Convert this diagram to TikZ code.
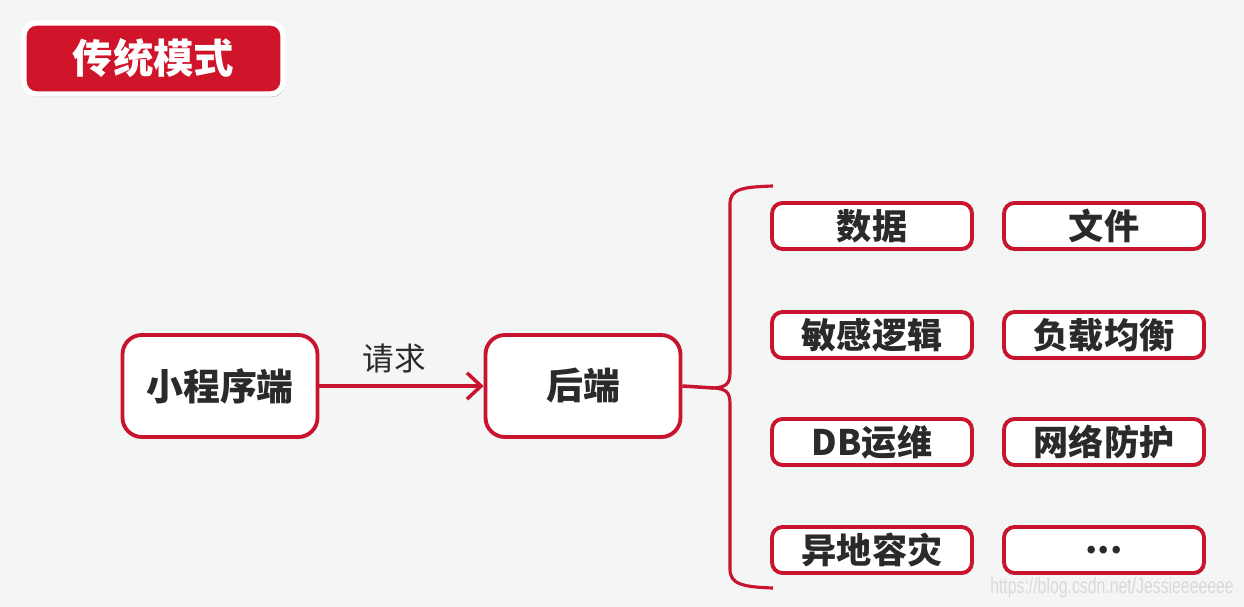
\documentclass[tikz,border=0pt]{standalone}
\usepackage{fontspec}
\newfontfamily\cjk{Noto Sans CJK SC}
\newfontfamily\wmfont{Liberation Sans}
\usetikzlibrary{positioning,shadows,arrows.meta}

\definecolor{bggray}{HTML}{F3F6F4}
\definecolor{linered}{HTML}{C8142E}
\definecolor{titlered}{HTML}{D0152B}
\definecolor{textdark}{HTML}{2A2A2A}

\newcommand{\moredots}{\raisebox{-0.25ex}{...}}

\tikzset{
  box/.style={draw=linered, line width=2.2pt, fill=white, text=textdark,
    font=\cjk\bfseries\fontsize{20}{24}\selectfont,
    drop shadow={shadow xshift=0.6pt, shadow yshift=-1.2pt, opacity=0.3}},
  bigbox/.style={box, minimum width=3.9cm, minimum height=2.04cm, rounded corners=11pt},
  smallbox/.style={box, minimum width=4cm, minimum height=0.92cm, rounded corners=6pt, inner sep=0pt},
  titlebox/.style={fill=titlered, draw=white, line width=3pt, rounded corners=7pt,
    minimum width=5.18cm, minimum height=1.42cm, text=white,
    font=\cjk\bfseries\fontsize{23}{27}\selectfont,
    drop shadow={shadow xshift=0.8pt, shadow yshift=-1.8pt, opacity=0.4}},
  link/.style={draw=linered, line width=2pt},
}

\begin{document}
\begin{tikzpicture}[x=0.02cm, y=-0.02cm]
  \fill[bggray] (0,0) rectangle (1244,607);
  \useasboundingbox (0,0) rectangle (1244,607);

  \node[titlebox] (mode) at (153.5,58.5) {传统模式};

  \node[bigbox] (client) at (220,386) {\fontsize{21}{25}\selectfont 小程序端};
  \node[bigbox] (server) at (583,386) {\fontsize{21}{25}\selectfont 后端};

  \draw[link, -{Straight Barb[length=8pt, width=15pt, line width=2pt]}] (client) --
    node[above=3pt, xshift=-0.15cm, text=textdark, font=\cjk\fontsize{18}{21}\selectfont] (req) {请求} (server);

  % bracket
  \coordinate (tip) at (714,388);
  \draw[link] (server.east) -- (tip);
  \draw[link, line width=1.8pt] (773,186) .. controls (742,187) and (730,189) .. (730,204)
    -- (730,372) .. controls (730,384) and (726,387) .. (tip)
    .. controls (726,389) and (730,392) .. (730,404)
    -- (730,569) .. controls (730,584) and (742,587) .. (773,588);

  \foreach \n/\x/\y/\t in {d1/872/226/数据, d2/1104/226/文件,
                           d3/872/335/敏感逻辑, d4/1104/335/负载均衡,
                           d5/872/442/DB运维, d6/1104/442/网络防护,
                           d7/872/550/异地容灾, d8/1104/550/\moredots}{
    \node[smallbox] (\n) at (\x,\y) {\t};
  }

  \node[text=black!15, font=\wmfont\fontsize{12.5}{14}\selectfont] (mark) at (1112,588)
    {\scalebox{0.72}[1]{https://blog.csdn.net/Jessieeeeeee}};
\end{tikzpicture}
\end{document}
